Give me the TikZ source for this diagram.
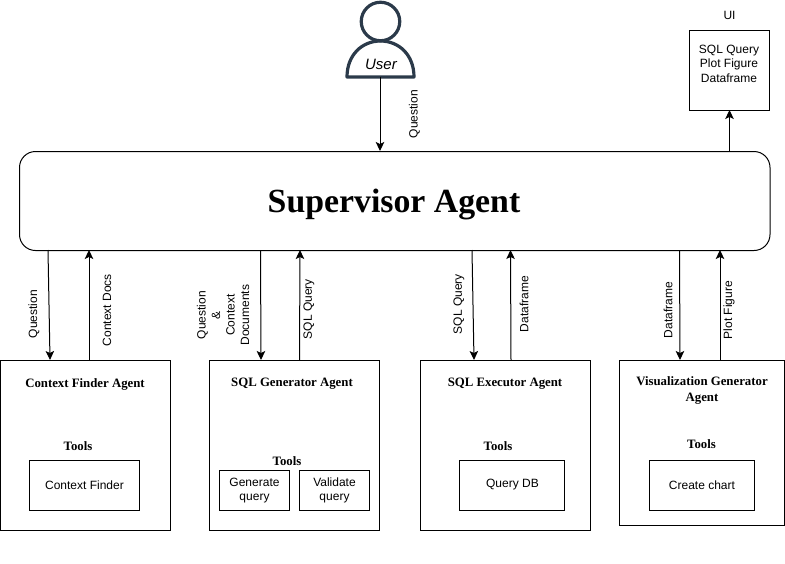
\documentclass[tikz,border=0pt]{standalone}
\usepackage{fontspec}
\setmainfont{Liberation Sans}
\newfontfamily\serifbf[BoldFont={Liberation Serif Bold}]{Liberation Serif}
\usepackage{tikz}
\usetikzlibrary{arrows.meta}
\usetikzlibrary{calc}

\definecolor{personcol}{HTML}{2B3A4A}

\tikzset{
	boxnode/.style={draw=black, line width=1pt, inner sep=0pt, anchor=north west},
	txt/.style={font=\fontsize{12}{14.5}\selectfont, align=center, inner sep=0pt},
	lbl/.style={txt, rotate=90},
	ttl/.style={font=\fontsize{12.8}{16}\selectfont\serifbf\bfseries, align=center, inner sep=0pt},
	conn/.style={line width=1pt, -{Stealth[length=9pt,width=8.5pt,inset=2pt]}},
	personline/.style={draw=personcol, line width=3.2pt}
}

\begin{document}
\begin{tikzpicture}[x=1pt, y=-1pt]
\useasboundingbox (0,0) rectangle (785,563);

% supervisor
\node (sup) [boxnode, rounded corners=16pt, minimum width=750.5pt, minimum height=99pt] at (19,151) {};
\node (suptxt) [font=\fontsize{33.8}{40}\selectfont\serifbf\bfseries, inner sep=0pt] at (394,204) {Supervisor Agent};

% user
\node (head) [circle, personline, minimum size=38.5pt, inner sep=0pt] at (380.5,21.5) {};
\draw[personline, line join=round] (347,77) .. controls (347,55) and (362,41) .. (380.5,41) .. controls (399,41) and (414,55) .. (414,77) -- cycle;
\node (user) [txt, font=\fontsize{15}{18}\selectfont\itshape] at (381,64) {User};
\coordinate (userbase) at (380,77);
\coordinate (supq) at (380,151);

% UI
\node (uibox) [boxnode, minimum width=80pt, minimum height=80pt] at (689,30) {};
\node (uititle) [txt] at (729.5,15) {UI};
\node (uitxt) [txt] at (729,63.5) {SQL Query\\Plot Figure\\Dataframe};
\coordinate (supui) at (729.5,151);
\coordinate (uibase) at (729.5,110);

% agents
\node (ctx) [boxnode, minimum width=170pt, minimum height=170pt] at (0,360) {};
\node (gen) [boxnode, minimum width=170pt, minimum height=170pt] at (209,360) {};
\node (exe) [boxnode, minimum width=170pt, minimum height=170pt] at (420,360) {};
\node (vis) [boxnode, minimum width=165pt, minimum height=165pt] at (619,360) {};

\node (ctxttl) [ttl] at (85,384) {Context Finder Agent};
\node (genttl) [ttl] at (292,384) {SQL Generator Agent};
\node (exettl) [ttl] at (505,384) {SQL Executor Agent};
\node (vislttl) [ttl] at (702,390) {Visualization Generator\\Agent};

\node (ctxtools) [ttl] at (78,446) {Tools};
\node (gentools) [ttl] at (287,461) {Tools};
\node (exetools) [ttl] at (498,446) {Tools};
\node (vistools) [ttl] at (701.5,444) {Tools};

% tools
\node (ctxbox) [boxnode, txt, minimum width=110pt, minimum height=50pt] at (29,460) {Context Finder};
\node (genbox) [boxnode, txt, minimum width=70pt, minimum height=40pt] at (219,470) {Generate\\query};
\node (valbox) [boxnode, txt, minimum width=70pt, minimum height=40pt] at (299,470) {Validate\\query};
\node (exebox) [boxnode, minimum width=105pt, minimum height=50pt] at (459,460) {};
\node (exetxt) [txt] at (512.5,485) {Query DB};
\node (visbox) [boxnode, txt, minimum width=105pt, minimum height=50pt] at (649,460) {Create chart};

% connector ends
\coordinate (a1) at (48,250);   \coordinate (a2) at (50,360);
\coordinate (b1) at (89,360);   \coordinate (b2) at (89,250);
\coordinate (c1) at (260.5,250); \coordinate (c2) at (261,360);
\coordinate (d1) at (299.5,360); \coordinate (d2) at (300,250);
\coordinate (e1) at (472,250);  \coordinate (e2) at (474,360);
\coordinate (f1) at (511,360);  \coordinate (f2) at (510.5,250);
\coordinate (g1) at (679.5,250); \coordinate (g2) at (680,360);
\coordinate (h1) at (720,360);  \coordinate (h2) at (720,250);

\path[conn]
(userbase) edge (supq)
(supui) edge (uibase)
(a1) edge (a2)
(b1) edge (b2)
(c1) edge (c2)
(d1) edge (d2)
(e1) edge (e2)
(f1) edge (f2)
(g1) edge (g2)
(h1) edge (h2)
;

% labels
\node (lq0) [lbl] at (414.5,114) {Question};
\node (lq1) [lbl] at (34,314) {Question};
\node (lcd) [lbl] at (107,310) {Context Docs};
\node (lqc) [lbl] at (223,315) {Question\\\&\\Context\\Documents};
\node (lsq1) [lbl] at (309,309) {SQL Query};
\node (lsq2) [lbl] at (459,304) {SQL Query};
\node (ldf1) [lbl] at (524,304) {Dataframe};
\node (ldf2) [lbl] at (668,310) {Dataframe};
\node (lpf) [lbl] at (729,310) {Plot Figure};
\end{tikzpicture}
\end{document}
